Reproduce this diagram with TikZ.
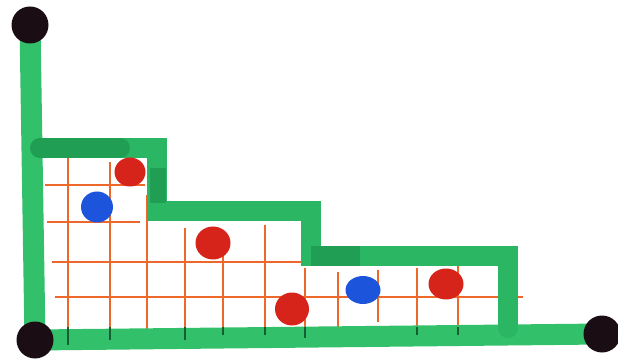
\documentclass[tikz,border=0pt]{standalone}
\usetikzlibrary{positioning,shapes.geometric}
\definecolor{axisgreen}{RGB}{50,192,106}
\definecolor{stepgreen}{RGB}{42,182,98}
\definecolor{darkgreen}{RGB}{32,158,84}
\definecolor{gridorange}{RGB}{238,104,44}
\definecolor{dotred}{RGB}{214,36,26}
\definecolor{dotblue}{RGB}{28,84,220}
\definecolor{dotblack}{RGB}{26,14,20}

\begin{document}
\begin{tikzpicture}[x=1pt, y=-1pt]
\tikzset{
    axis/.style={axisgreen, line width=21pt},
    stair/.style={stepgreen, line width=20pt, line cap=round},
    shade/.style={darkgreen, line width=20pt},
    gridline/.style={gridorange, line width=2.4pt},
    gridtick/.style={darkgreen!60!black, line width=2pt},
    blob/.style={ellipse, inner sep=0pt},
    reddot/.style={blob, fill=dotred},
    bluedot/.style={blob, fill=dotblue},
    enddot/.style={blob, fill=dotblack, minimum width=37pt, minimum height=37pt}
}
\useasboundingbox (0,0) rectangle (618,363);

% grid under the staircase
\draw[gridline] (45,185) -- (145,185);
\draw[gridline] (47,222) -- (140,222);
\draw[gridline] (52,262) -- (312,262);
\draw[gridline] (55,297) -- (523,297);
\draw[gridline] (68,158) -- (68,345);
\draw[gridline] (110,162) -- (110,340);
\draw[gridline] (147,195) -- (147,330);
\draw[gridline] (185,228) -- (185,340);
\draw[gridline] (223,232) -- (223,335);
\draw[gridline] (265,225) -- (265,335);
\draw[gridline] (305,268) -- (305,338);
\draw[gridline] (338,272) -- (338,330);
\draw[gridline] (378,270) -- (378,322);
\draw[gridline] (417,268) -- (417,335);
\draw[gridline] (458,265) -- (458,335);

% axes
\coordinate (top) at (30,25);
\coordinate (origin) at (35,340);
\coordinate (xend) at (602,334);
\draw[axis] (top) -- (origin) -- (xend);

% ticks across the axis
\draw[gridtick] (68,327) -- (68,345);
\draw[gridtick] (110,327) -- (110,340);
\draw[gridtick] (185,327) -- (185,340);
\draw[gridtick] (223,327) -- (223,335);
\draw[gridtick] (265,327) -- (265,335);
\draw[gridtick] (305,327) -- (305,338);
\draw[gridtick] (417,327) -- (417,335);
\draw[gridtick] (458,327) -- (458,335);

% staircase
\draw[stair] (40,148) -- (157,148) -- (157,211) -- (311,211) -- (311,256)
    -- (508,256) -- (508,328);
\draw[shade, line cap=round] (40,148) -- (120,148);
\draw[shade, line width=16pt] (158,168) -- (158,203);
\draw[shade] (311,256) -- (360,256);

% end points
\node[enddot] (topdot) at (top) {};
\node[enddot] (origindot) at (origin) {};
\node[enddot] (xdot) at (xend) {};

% points
\node[reddot, minimum width=31pt, minimum height=29pt] (r1) at (130,172) {};
\node[bluedot, minimum width=32pt, minimum height=31pt] (b1) at (97,207) {};
\node[reddot, minimum width=35pt, minimum height=33pt] (r2) at (213,243) {};
\node[reddot, minimum width=34pt, minimum height=33pt] (r3) at (292,309) {};
\node[bluedot, minimum width=35pt, minimum height=28pt] (b2) at (363,290) {};
\node[reddot, minimum width=35pt, minimum height=31pt] (r4) at (446,284) {};

\end{tikzpicture}
\end{document}
